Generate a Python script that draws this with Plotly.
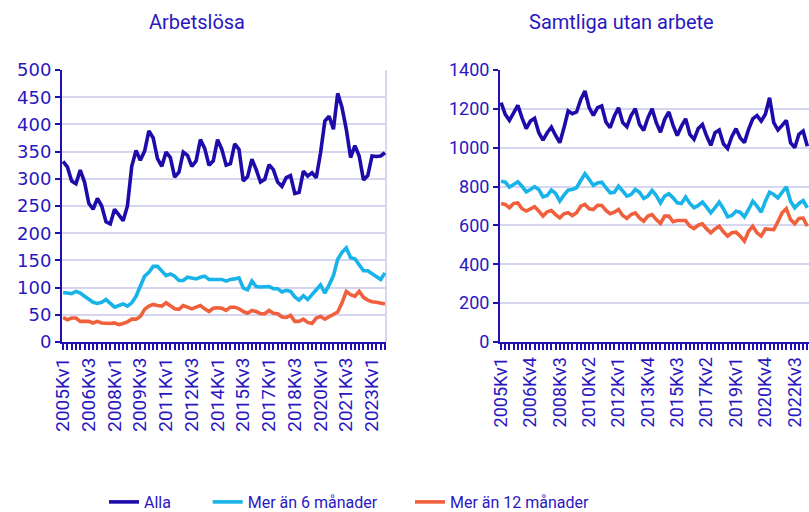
import plotly.graph_objects as go

# ---------------- data ----------------
quarters = [f"{y}Kv{q}" for y in range(2005, 2024) for q in range(1, 5)]

series_names = ["Alla", "Mer än 6 månader", "Mer än 12 månader"]

# Arbetslösa (tusental)
arb_alla = [332, 322, 296, 291, 316, 294, 255, 244, 264, 250,
            221, 217, 244, 233, 223, 250, 323, 352, 334, 351,
            388, 375, 337, 323, 349, 339, 303, 312, 349, 343,
            323, 333, 372, 356, 325, 333, 372, 354, 325, 328,
            364, 354, 296, 304, 336, 317, 294, 299, 326, 317,
            294, 286, 302, 306, 273, 275, 314, 305, 311, 302,
            348, 406, 415, 391, 457, 431, 391, 339, 361, 342,
            298, 306, 342, 341, 342, 348]
arb_6 = [91, 90, 89, 93, 90, 84, 79, 73, 71, 73,
         78, 72, 64, 67, 70, 66, 72, 84, 102, 121,
         128, 139, 139, 130, 122, 125, 121, 113, 113, 119,
         118, 116, 119, 121, 115, 115, 116, 115, 112, 115,
         116, 118, 99, 96, 112, 102, 101, 101, 102, 98,
         98, 92, 95, 93, 83, 77, 85, 78, 88, 96,
         105, 90, 105, 122, 152, 165, 173, 155, 153, 142,
         131, 131, 126, 120, 115, 127]
arb_12 = [45, 41, 44, 44, 38, 38, 38, 35, 38, 35,
          34, 34, 35, 32, 34, 37, 42, 42, 47, 60,
          66, 69, 67, 66, 72, 67, 61, 60, 67, 64,
          61, 64, 67, 61, 56, 62, 63, 62, 58, 64,
          64, 61, 56, 53, 58, 56, 52, 52, 58, 53,
          52, 46, 45, 49, 38, 38, 42, 36, 34, 44,
          47, 42, 46, 50, 55, 72, 93, 87, 84, 93,
          82, 77, 74, 73, 72, 70]

# Samtliga utan arbete (tusental), visible part
sam_alla = [1232, 1172, 1141, 1184, 1218, 1154, 1098, 1137, 1151, 1077,
            1039, 1077, 1106, 1063, 1026, 1103, 1189, 1175, 1184, 1249,
            1292, 1206, 1166, 1206, 1215, 1132, 1103, 1163, 1206, 1129,
            1108, 1166, 1201, 1120, 1089, 1154, 1201, 1129, 1080, 1146,
            1184, 1115, 1063, 1111, 1149, 1069, 1043, 1099, 1120, 1060,
            1012, 1077, 1091, 1020, 996, 1057, 1098, 1051, 1026, 1094,
            1149, 1166, 1137, 1172, 1257, 1129, 1091, 1115, 1141, 1026,
            1000, 1069, 1086, 1008]
sam_6 = [828, 823, 797, 811, 825, 802, 773, 785, 799, 785,
         747, 754, 782, 765, 725, 756, 782, 785, 794, 831,
         866, 837, 806, 819, 823, 794, 768, 771, 802, 777,
         751, 759, 785, 771, 739, 751, 780, 754, 716, 751,
         763, 742, 716, 713, 746, 713, 691, 703, 720, 694,
         665, 691, 720, 686, 644, 651, 673, 668, 644, 682,
         725, 699, 668, 725, 771, 759, 742, 771, 799, 725,
         691, 713, 728, 691]
sam_12 = [713, 708, 691, 713, 716, 686, 674, 686, 696, 674,
          648, 670, 677, 656, 639, 660, 665, 651, 665, 699,
          708, 686, 682, 704, 703, 677, 660, 668, 682, 651,
          636, 656, 665, 639, 622, 648, 656, 630, 610, 648,
          648, 619, 625, 625, 625, 596, 584, 601, 608, 582,
          562, 582, 596, 567, 545, 562, 565, 545, 519, 570,
          596, 562, 545, 582, 580, 578, 620, 665, 686, 630,
          608, 636, 638, 596]

left_ticks = [q if i % 6 == 0 else "" for i, q in enumerate(quarters)]
right_ticks = [q if i % 7 == 0 else "" for i, q in enumerate(quarters)]

# ---------------- style ----------------
W, H = 809, 512
TXT = "#2A17BF"
AX = "#2010B0"
COLORS = ["#1D0CA9", "#18B3E8", "#F0603C"]
GRID = "#D6D6F0"
LW = 3.6


def px(x):
    return x / W


def py(y):
    return 1 - y / H


fig = go.Figure()
left_data = [arb_alla, arb_6, arb_12]
right_data = [sam_alla, sam_6, sam_12]
pad = ["\u00a0" * 8, "\u00a0" * 7, ""]
for k in range(3):
    fig.add_trace(go.Scatter(
        x=quarters, y=left_data[k], mode="lines", name=series_names[k] + pad[k],
        line=dict(color=COLORS[k], width=LW), legendgroup=str(k),
        xaxis="x", yaxis="y"))
for k in range(3):
    fig.add_trace(go.Scatter(
        x=quarters[:len(right_data[k])], y=right_data[k], mode="lines",
        name=series_names[k], line=dict(color=COLORS[k], width=LW),
        legendgroup=str(k), showlegend=False, xaxis="x2", yaxis="y2"))

xcommon = dict(type="category", tickmode="array", tickvals=quarters,
               tickangle=-90, ticks="outside", ticklen=6, tickwidth=1.5,
               tickcolor=AX, showline=True, linecolor=AX, linewidth=2,
               showgrid=False, zeroline=False, automargin=False)
ycommon = dict(tickmode="linear", ticks="outside", ticklen=5, tickwidth=1.5,
               tickcolor=AX, showline=True, linecolor=AX, linewidth=2,
               gridcolor=GRID, gridwidth=2, zeroline=False, automargin=False)

fig.update_layout(
    width=W, height=H,
    margin=dict(l=0, r=0, t=0, b=0, autoexpand=False),
    paper_bgcolor="white", plot_bgcolor="white",
    font=dict(family="Roboto", color=TXT),
    xaxis=dict(xcommon, domain=[px(62), px(386)], range=[-0.25, 75.25],
               ticktext=left_ticks, anchor="y",
               tickfont=dict(family="Roboto", size=19, color=TXT)),
    yaxis=dict(ycommon, domain=[py(342), py(70)], range=[0, 500], dtick=50,
               anchor="x", tickfont=dict(family="DejaVu Sans", size=18, color=TXT)),
    xaxis2=dict(xcommon, domain=[px(500), 1.0], range=[-0.25, 73.4],
                ticktext=right_ticks, anchor="y2",
                tickfont=dict(family="Roboto", size=18, color=TXT)),
    yaxis2=dict(ycommon, domain=[py(342), py(70)], range=[0, 1400], dtick=200,
                anchor="x2", tickfont=dict(family="Roboto", size=18, color=TXT)),
    legend=dict(orientation="h", x=px(104), xanchor="left", y=py(502),
                yanchor="middle", bgcolor="rgba(0,0,0,0)",
                font=dict(family="Roboto", size=16, color=TXT)),
    annotations=[
        dict(text="Arbetslösa", x=px(197), y=py(22), xref="paper", yref="paper",
             xanchor="center", yanchor="middle", showarrow=False,
             font=dict(family="Roboto", size=20, color=TXT)),
        dict(text="Samtliga utan arbete", x=px(621), y=py(22), xref="paper",
             yref="paper", xanchor="center", yanchor="middle", showarrow=False,
             font=dict(family="Roboto", size=20, color=TXT)),
    ],
    shapes=[dict(type="line", xref="x domain", yref="y domain", x0=1, x1=1,
                 y0=0, y1=1, line=dict(color=GRID, width=2), layer="below")],
)

fig.write_html("out.html",
               config={"displayModeBar": False},
               post_script="document.body.style.margin='0';"
                           "document.body.style.overflow='hidden';")
